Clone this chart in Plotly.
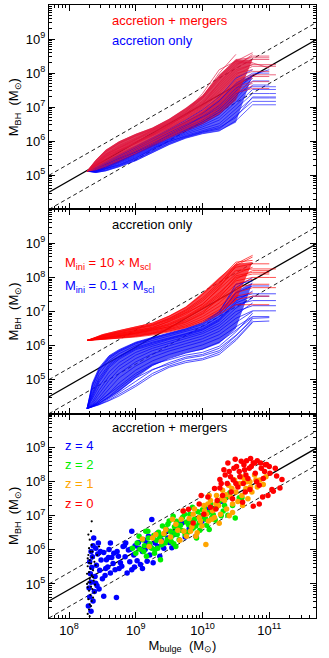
import plotly.graph_objects as go
from plotly.subplots import make_subplots

# ---------- data (all values are log10) ----------
# relation and +-0.5 dex scatter, endpoints at the x-axis limits
REL_X = [7.7, 11.7]
REL_Y = [4.50, 8.98]
REL_HI = [5.00, 9.48]
REL_LO = [4.00, 8.48]

# top panel: accretion + mergers (red) vs accretion only (blue)
TOP_GRID = [8.27, 8.4, 8.55, 8.75, 9.0, 9.25, 9.5, 9.75, 10.0, 10.25, 10.5, 10.75, 11.0, 11.1]
TOP_BLUE_LO = [5.12, 5.07, 5.12, 5.24, 5.42, 5.66, 5.90, 6.09, 6.22, 6.30, 6.55]
TOP_BLUE_HI = [5.12, 5.22, 5.38, 5.58, 5.82, 6.07, 6.32, 6.58, 6.87, 7.24, 7.70, 7.95]
TOP_RED_LO = [5.12, 5.13, 5.22, 5.38, 5.60, 5.84, 6.08, 6.30, 6.50, 6.78, 7.20]
TOP_RED_HI = [5.12, 5.45, 5.75, 6.00, 6.22, 6.40, 6.66, 6.98, 7.35, 7.95, 8.40, 8.40]
TOP_BLUE_TRACKS = [
    [5.12, 5.08, 5.13, 5.25, 5.43, 5.67, 5.90, 6.09, 6.22, 6.30, 6.60, 7.07, 7.07, 7.07],
    [5.12, 5.10, 5.18, 5.32, 5.52, 5.75, 5.98, 6.17, 6.32, 6.45, 6.85, 7.27, 7.27, 7.27],
    [5.12, 5.13, 5.22, 5.38, 5.58, 5.82, 6.05, 6.25, 6.42, 6.62, 7.05, 7.52, 7.52, 7.52],
    [5.12, 5.15, 5.26, 5.43, 5.64, 5.88, 6.12, 6.33, 6.52, 6.78, 7.25, 7.77, 7.77],
    [5.12, 5.17, 5.30, 5.48, 5.70, 5.94, 6.18, 6.40, 6.62, 6.92, 7.40, 7.60, 7.60, 7.60],
    [5.12, 5.19, 5.33, 5.52, 5.75, 6.00, 6.25, 6.48, 6.72, 7.05, 7.55, 7.90],
    [5.12, 5.21, 5.36, 5.56, 5.80, 6.05, 6.30, 6.55, 6.82, 7.18, 7.70, 8.00, 8.00],
    [5.12, 5.11, 5.20, 5.35, 5.55, 5.79, 6.02, 6.21, 6.37, 6.52, 6.95, 7.40, 7.40, 7.40],
    [5.12, 5.16, 5.28, 5.46, 5.67, 5.91, 6.15, 6.37, 6.57, 6.85, 7.32, 7.85],
    [5.12, 5.23, 5.40, 5.60, 5.84, 6.09, 6.35, 6.62, 6.92, 7.30, 7.85, 8.10],
    [5.12, 5.09, 5.15, 5.28, 5.47, 5.71, 5.94, 6.12, 6.26, 6.36, 6.75, 7.17, 7.17, 7.17],
    [5.12, 5.14, 5.24, 5.40, 5.61, 5.85, 6.08, 6.29, 6.47, 6.70, 7.15, 7.65, 7.65],
    [5.12, 5.12, 5.20, 5.30, 5.50, 5.78, 6.00, 6.15, 6.28, 6.40, 6.70, 7.30, 7.30, 7.30],
    [5.12, 5.18, 5.32, 5.50, 5.68, 5.90, 6.20, 6.45, 6.70, 6.98, 7.45, 7.95, 8.10],
]
TOP_RED_TRACKS = [
    [5.12, 5.44, 5.73, 5.98, 6.20, 6.38, 6.64, 6.95, 7.32, 7.90, 8.40, 8.45, 8.45],
    [5.12, 5.40, 5.68, 5.93, 6.15, 6.34, 6.58, 6.88, 7.25, 7.80, 8.30, 8.30],
    [5.12, 5.37, 5.63, 5.88, 6.10, 6.30, 6.53, 6.82, 7.18, 7.70, 8.20, 8.55],
    [5.12, 5.34, 5.58, 5.82, 6.04, 6.25, 6.48, 6.76, 7.10, 7.60, 8.10, 8.25, 8.25, 8.25],
    [5.12, 5.31, 5.53, 5.76, 5.98, 6.20, 6.43, 6.70, 7.03, 7.50, 8.00, 8.10],
    [5.12, 5.28, 5.48, 5.70, 5.92, 6.15, 6.38, 6.64, 6.96, 7.40, 7.90, 8.05, 8.05],
    [5.12, 5.26, 5.44, 5.65, 5.87, 6.10, 6.33, 6.58, 6.90, 7.32, 7.80, 7.95, 7.95, 7.95],
    [5.12, 5.24, 5.40, 5.60, 5.82, 6.05, 6.28, 6.52, 6.83, 7.24, 7.70, 7.85],
    [5.12, 5.22, 5.37, 5.56, 5.78, 6.00, 6.23, 6.47, 6.77, 7.15, 7.60, 7.75, 7.75],
    [5.12, 5.20, 5.34, 5.52, 5.74, 5.96, 6.18, 6.42, 6.70, 7.08, 7.52, 7.70],
    [5.12, 5.42, 5.70, 5.95, 6.17, 6.36, 6.61, 6.92, 7.28, 7.85, 8.35, 8.60],
    [5.12, 5.35, 5.60, 5.85, 6.07, 6.28, 6.50, 6.79, 7.14, 7.65, 8.15, 8.40, 8.40],
    [5.12, 5.29, 5.50, 5.73, 5.95, 6.17, 6.40, 6.67, 7.00, 7.45, 7.95, 8.20, 8.20, 8.20],
    [5.12, 5.25, 5.42, 5.62, 5.84, 6.07, 6.30, 6.55, 6.86, 7.28, 7.75, 7.90, 7.90],
    [5.12, 5.30, 5.55, 5.80, 6.00, 6.20, 6.45, 6.80, 7.30, 8.00, 8.55],
    [5.12, 5.38, 5.62, 5.80, 6.05, 6.32, 6.55, 6.85, 7.40, 8.10, 8.35, 8.30, 8.15],
    [5.12, 5.27, 5.46, 5.72, 5.96, 6.18, 6.46, 6.75, 7.05, 7.55, 8.05, 8.25],
    [5.12, 5.33, 5.56, 5.74, 5.94, 6.22, 6.50, 6.74, 7.08, 7.72, 8.25, 8.50, 8.50],
    [5.12, 5.16, 5.27, 5.44, 5.66, 5.90, 6.12, 6.36, 6.60, 6.95, 7.45, 7.62],
    [5.12, 5.18, 5.30, 5.48, 5.70, 5.92, 6.15, 6.38, 6.64, 7.00, 7.42, 7.55, 7.55],
]

# middle panel: accretion only, M_ini = 10 x M_scl (red) and 0.1 x M_scl (blue)
MID_RED_GRID = [8.27, 8.5, 8.75, 9.0, 9.25, 9.5, 9.75, 10.0, 10.25, 10.5, 10.75, 11.0, 11.1]
MID_RED_LO = [6.15, 6.18, 6.21, 6.26, 6.32, 6.41, 6.53, 6.70, 6.95, 7.30]
MID_RED_HI = [6.15, 6.33, 6.45, 6.55, 6.67, 6.88, 7.15, 7.55, 8.00, 8.40, 8.45]
MID_RED_TRACKS = [
    [6.15, 6.32, 6.44, 6.54, 6.66, 6.86, 7.12, 7.50, 7.95, 8.45, 8.50],
    [6.15, 6.30, 6.41, 6.51, 6.62, 6.80, 7.05, 7.40, 7.85, 8.30, 8.40, 8.40],
    [6.15, 6.28, 6.38, 6.48, 6.58, 6.75, 6.98, 7.30, 7.75, 8.20, 8.25, 8.25, 8.25],
    [6.15, 6.26, 6.35, 6.44, 6.54, 6.70, 6.92, 7.22, 7.65, 8.10, 8.30],
    [6.15, 6.25, 6.33, 6.41, 6.50, 6.65, 6.86, 7.15, 7.55, 8.00, 8.10, 8.10],
    [6.15, 6.23, 6.30, 6.38, 6.47, 6.60, 6.80, 7.08, 7.45, 7.90, 8.00, 8.00, 8.00],
    [6.15, 6.22, 6.28, 6.35, 6.44, 6.56, 6.74, 7.00, 7.35, 7.80, 7.95],
    [6.15, 6.21, 6.26, 6.33, 6.41, 6.52, 6.68, 6.92, 7.25, 7.70, 7.80, 7.80],
    [6.15, 6.20, 6.25, 6.31, 6.38, 6.49, 6.63, 6.85, 7.15, 7.55, 7.70, 7.70, 7.70],
    [6.15, 6.19, 6.24, 6.29, 6.36, 6.46, 6.58, 6.78, 7.05, 7.45, 7.55],
    [6.15, 6.18, 6.22, 6.27, 6.34, 6.43, 6.54, 6.72, 6.98, 7.35, 7.45, 7.45],
    [6.15, 6.18, 6.21, 6.25, 6.31, 6.40, 6.52, 6.68, 6.92, 7.20, 7.20, 7.20],
    [6.15, 6.29, 6.40, 6.50, 6.60, 6.78, 7.02, 7.35, 7.80, 8.40, 8.65],
    [6.15, 6.24, 6.32, 6.40, 6.49, 6.62, 6.83, 7.12, 7.50, 8.05, 8.15, 8.15],
    [6.15, 6.27, 6.36, 6.43, 6.52, 6.72, 6.95, 7.20, 7.70, 8.35, 8.60],
    [6.15, 6.20, 6.27, 6.36, 6.45, 6.55, 6.70, 6.95, 7.40, 7.95, 8.20, 8.20],
]
MID_BLUE_GRID = [8.27, 8.35, 8.45, 8.6, 8.75, 9.0, 9.25, 9.5, 9.75, 10.0, 10.25, 10.5, 10.75, 11.0, 11.1]
MID_BLUE_LO = [4.15, 4.21, 4.29, 4.45, 4.64, 5.04, 5.40, 5.63, 5.78, 5.88, 6.06, 6.50]
MID_BLUE_HI = [4.15, 4.88, 5.33, 5.70, 5.88, 6.10, 6.24, 6.36, 6.50, 6.66, 6.98, 7.60, 7.85]
MID_BLUE_TRACKS = [
    [4.15, 4.90, 5.35, 5.70, 5.88, 6.10, 6.24, 6.36, 6.50, 6.68, 7.00, 7.70, 8.00],
    [4.15, 4.80, 5.25, 5.62, 5.82, 6.05, 6.20, 6.32, 6.45, 6.62, 6.92, 7.55, 7.75, 7.75],
    [4.15, 4.70, 5.15, 5.55, 5.76, 6.00, 6.15, 6.28, 6.40, 6.55, 6.85, 7.40, 7.52, 7.52, 7.52],
    [4.15, 4.60, 5.05, 5.45, 5.68, 5.94, 6.10, 6.22, 6.35, 6.50, 6.78, 7.30, 7.60],
    [4.15, 4.50, 4.92, 5.35, 5.60, 5.88, 6.04, 6.18, 6.30, 6.45, 6.72, 7.20, 7.32, 7.32, 7.32],
    [4.15, 4.42, 4.80, 5.22, 5.50, 5.80, 5.98, 6.12, 6.25, 6.40, 6.65, 7.10, 7.40],
    [4.15, 4.35, 4.68, 5.10, 5.40, 5.72, 5.92, 6.06, 6.20, 6.35, 6.58, 7.00, 7.17, 7.17, 7.17],
    [4.15, 4.30, 4.58, 4.98, 5.30, 5.62, 5.85, 6.00, 6.14, 6.28, 6.50, 6.90, 7.25],
    [4.15, 4.26, 4.48, 4.85, 5.18, 5.52, 5.76, 5.92, 6.06, 6.20, 6.42, 6.80, 7.02, 7.02, 7.02],
    [4.15, 4.24, 4.40, 4.72, 5.05, 5.40, 5.66, 5.84, 5.98, 6.12, 6.32, 6.68, 7.00],
    [4.15, 4.22, 4.35, 4.60, 4.90, 5.28, 5.55, 5.74, 5.88, 6.02, 6.22, 6.55, 6.85, 6.85],
    [4.15, 4.21, 4.31, 4.50, 4.75, 5.12, 5.42, 5.62, 5.78, 5.90, 6.10, 6.45, 6.83],
    [4.15, 4.20, 4.28, 4.44, 4.62, 4.95, 5.28, 5.50, 5.66, 5.74, 5.92, 6.30, 6.75],
    [4.15, 4.20, 4.27, 4.40, 4.56, 4.85, 5.18, 5.40, 5.55, 5.62, 5.80, 6.20, 6.70, 6.72],
    [4.15, 4.85, 5.30, 5.66, 5.85, 6.08, 6.22, 6.35, 6.48, 6.66, 6.98, 7.80, 7.90],
    [4.15, 4.55, 4.98, 5.40, 5.64, 5.91, 6.07, 6.20, 6.32, 6.47, 6.75, 7.25, 7.45, 7.45],
    [4.15, 4.20, 4.26, 4.38, 4.52, 4.80, 5.12, 5.36, 5.50, 5.58, 5.74, 6.15, 6.68],
    [4.15, 4.21, 4.30, 4.48, 4.68, 5.05, 5.30, 5.45, 5.62, 5.70, 5.85, 6.28, 6.80, 6.82],
    [4.15, 4.23, 4.36, 4.58, 4.82, 5.18, 5.45, 5.58, 5.72, 5.80, 5.98, 6.40, 6.95],
]

# bottom panel: accretion + mergers, snapshots at several redshifts
SEED_X = [8.28, 8.30, 8.31, 8.29, 8.32, 8.30, 8.33, 8.29, 8.31, 8.34, 8.30, 8.32, 8.28, 8.33, 8.31,
          8.35, 8.29, 8.32, 8.30, 8.34, 8.31, 8.36, 8.37, 8.35, 8.36, 8.38, 8.27, 8.27, 8.28, 8.33,
          8.35, 8.34, 8.40, 8.42, 8.45, 8.39, 8.29, 8.33, 8.31, 8.36, 8.38, 8.30, 8.32, 8.34, 8.28]
SEED_Y = [4.12, 4.25, 4.40, 4.55, 4.68, 4.80, 4.92, 5.05, 5.15, 5.25, 5.35, 5.45, 5.52, 5.60, 5.70,
          5.78, 5.85, 5.95, 6.05, 6.15, 6.30, 5.40, 5.10, 4.85, 4.60, 5.65, 5.00, 5.30, 5.75, 4.35,
          5.95, 6.84, 5.55, 5.85, 6.10, 4.98, 6.45, 6.55, 4.05, 5.20, 4.75, 5.62, 5.05, 4.50, 4.90]

Z4_X = [8.29, 8.31, 8.30, 8.33, 8.32, 8.34, 8.31, 8.35, 8.33, 8.36, 8.37, 8.33, 8.36, 8.38, 8.40,
        8.39, 8.41, 8.43, 8.44, 8.42, 8.46, 8.48, 8.50, 8.52, 8.54, 8.56, 8.58, 8.60, 8.62, 8.64,
        8.66, 8.69, 8.71, 8.52, 8.72, 8.74, 8.77, 8.79, 8.81, 8.84, 8.87, 8.89, 8.92, 8.94, 8.94,
        8.97, 8.99, 9.02, 9.04, 9.07, 9.10, 9.12, 9.14, 9.17, 9.19, 9.22, 9.24, 9.26, 9.29, 9.32,
        9.36, 9.38, 9.42, 9.46, 9.50, 9.54, 9.58, 9.62, 9.69, 9.74, 9.80, 9.90, 9.99, 10.04, 10.06,
        10.29, 9.56, 9.10, 8.85, 8.62, 8.47, 8.55, 8.59, 8.67, 8.75, 8.83, 8.91, 8.98, 9.05, 9.16,
        9.21, 9.33, 9.48, 8.40, 8.45]
Z4_Y = [4.35, 4.62, 4.88, 5.05, 5.30, 5.48, 5.65, 5.80, 5.95, 6.12, 6.35, 4.20, 4.50, 4.78, 5.02,
        5.22, 5.55, 5.88, 6.20, 4.95, 5.40, 5.70, 5.15, 5.92, 5.25, 5.71, 5.50, 6.01, 5.32, 5.78,
        5.60, 5.42, 4.60, 4.64, 5.95, 5.81, 5.62, 5.52, 6.10, 5.80, 5.32, 6.00, 6.02, 5.42, 6.55,
        5.85, 6.12, 5.68, 6.22, 5.57, 5.95, 6.30, 6.01, 5.67, 6.40, 6.08, 6.89, 5.62, 6.20, 6.48,
        5.81, 6.30, 6.05, 6.58, 6.22, 6.06, 6.45, 6.70, 6.79, 6.38, 6.62, 6.40, 6.84, 7.14, 7.19,
        7.43, 6.50, 5.45, 6.20, 6.20, 5.95, 5.45, 5.78, 5.90, 5.45, 6.12, 5.65, 5.50, 6.05, 6.20,
        5.85, 6.10, 6.35, 6.05, 4.85]

Z2_X = [8.95, 9.00, 9.02, 9.06, 9.10, 9.13, 9.16, 9.19, 9.21, 9.24, 9.27, 9.29, 9.31, 9.34, 9.36,
        9.37, 9.39, 9.42, 9.45, 9.47, 9.50, 9.52, 9.54, 9.56, 9.57, 9.59, 9.61, 9.63, 9.65, 9.67,
        9.70, 9.72, 9.74, 9.76, 9.79, 9.81, 9.83, 9.86, 9.88, 9.91, 9.93, 9.95, 9.98, 10.01, 10.03,
        10.06, 10.09, 10.12, 10.16, 10.19, 10.22, 10.26, 10.31, 10.35, 10.41, 10.45, 10.49, 10.55,
        10.59, 9.15, 9.40, 9.60, 9.85, 9.28, 10.10, 10.38, 9.05, 9.12, 9.18, 9.33, 9.44, 9.48,
        9.53, 9.62, 9.68, 9.73, 9.78, 9.84, 9.90, 9.96, 10.00, 10.05, 10.14, 10.20, 10.28, 10.33,
        9.58, 9.35]
Z2_Y = [6.05, 5.90, 6.20, 6.02, 6.30, 6.12, 5.81, 6.35, 6.18, 6.05, 6.42, 6.01, 6.28, 6.52, 6.35,
        5.71, 6.15, 6.45, 6.62, 6.30, 6.85, 6.55, 6.40, 6.99, 6.18, 6.50, 6.84, 6.65, 6.30, 6.72,
        6.95, 6.55, 6.45, 6.82, 6.74, 7.05, 6.60, 6.64, 6.90, 6.35, 7.12, 6.80, 7.00, 6.94, 7.25,
        6.72, 7.10, 7.35, 7.04, 6.88, 7.28, 7.45, 7.14, 7.55, 7.68, 7.30, 6.94, 7.53,
        7.53, 6.55, 6.70, 6.10, 7.25, 5.90, 6.60, 7.02, 6.40, 5.95, 6.55, 6.05, 6.20, 6.75,
        6.25, 6.45, 6.58, 7.05, 6.52, 6.85, 6.70, 6.58, 7.18, 6.90, 6.95, 7.22, 7.00, 7.30,
        6.68, 6.42]

Z1_X = [9.10, 9.20, 9.30, 9.38, 9.45, 9.52, 9.60, 9.66, 9.71, 9.72, 9.76, 9.80, 9.84, 9.88, 9.92,
        9.95, 9.99, 10.02, 10.05, 10.06, 10.09, 10.12, 10.15, 10.18, 10.21, 10.24, 10.27, 10.30,
        10.33, 10.36, 10.39, 10.42, 10.45, 10.48, 10.50, 10.53, 10.56, 10.59, 10.62, 10.65, 10.68,
        10.71, 10.74, 10.78, 10.82, 10.86, 10.91, 10.95, 10.25, 10.40, 9.55, 9.90, 10.60, 10.10,
        9.25, 9.42, 9.63, 9.68, 9.82, 9.86, 9.97, 10.03, 10.08, 10.14, 10.20, 10.29, 10.35, 10.44,
        10.52, 10.58, 10.66, 10.72, 10.80, 10.45]
Z1_Y = [6.32, 6.10, 6.45, 6.25, 6.60, 6.38, 6.75, 6.28, 7.14, 6.55, 6.40, 6.92, 6.68, 7.20, 6.50,
        6.95, 6.70, 7.30, 6.16, 7.05, 6.85, 7.45, 7.15, 6.95, 7.60, 7.30, 7.05, 7.75,
        7.45, 7.20, 7.90, 7.55, 7.35, 8.05, 7.70, 7.42, 7.95, 7.60, 8.10, 7.80, 7.50,
        8.00, 7.70, 8.20, 7.85, 8.05, 7.92, 8.15, 6.78, 7.00, 6.90, 6.40, 7.30, 7.60,
        6.35, 6.48, 6.58, 6.90, 6.55, 7.05, 6.85, 7.15, 7.35, 6.90, 7.35, 7.50, 7.62, 7.80,
        7.90, 8.15, 8.00, 7.85, 8.05, 7.10]

Z0_X = [9.71, 9.79, 9.86, 9.95, 10.02, 10.08, 10.12, 10.18, 10.22, 10.26, 10.26, 10.30, 10.34,
        10.37, 10.40, 10.43, 10.46, 10.49, 10.51, 10.53, 10.56, 10.58, 10.61, 10.63, 10.66, 10.68,
        10.71, 10.73, 10.76, 10.76, 10.79, 10.82, 10.85, 10.88, 10.91, 10.94, 10.96, 10.98, 11.01,
        11.04, 11.06, 11.09, 11.11, 11.16, 11.19, 10.20, 10.45, 10.60, 10.85, 10.38, 10.72, 9.98,
        10.90, 10.28, 10.32, 10.42, 10.47, 10.55, 10.62, 10.65, 10.70, 10.78, 10.81, 10.87, 10.93,
        11.00, 10.64, 10.50]
Z0_Y = [7.14, 7.19, 6.79, 7.35, 7.05, 7.55, 7.25, 7.80, 7.45, 8.07, 7.82, 7.60, 8.20,
        7.95, 8.30, 7.70, 8.05, 8.66, 8.45, 7.85, 8.15, 8.60, 7.95, 8.35, 8.62, 8.10,
        7.77, 8.45, 7.28, 8.55, 8.25, 8.62, 7.90, 8.40, 8.10, 8.50, 8.51, 7.60, 8.25,
        7.77, 7.72, 8.40, 8.17, 7.82, 8.07, 7.20, 7.50, 7.40, 7.35, 8.55, 8.68, 7.60,
        7.55, 7.95, 8.35, 8.15, 8.40, 8.30, 8.50, 8.20, 8.40, 8.55, 8.00, 8.55, 8.30,
        8.45, 7.70, 7.95]

BLUE = "#0000FF"
RED = "#FF0000"
CRIMSON = "#E2143C"
GREEN = "#00EE00"
ORANGE = "#FFA500"
FONT = "Liberation Sans, Arial, Helvetica, sans-serif"

# plot area in pixels
L, R, T, B = 49, 13, 5, 40
W, HGT = 329, 658


def lin(vals):
    return [10 ** v for v in vals]


def add_fill(fig, row, grid, lo, hi, fill):
    # dense core of a bundle of tracks
    fig.add_trace(
        go.Scatter(
            x=lin(grid[:len(hi)] + grid[:len(lo)][::-1]),
            y=lin(hi + lo[::-1]),
            fill="toself", fillcolor=fill, mode="lines", line=dict(width=0),
            hoverinfo="skip", showlegend=False,
        ),
        row=row, col=1,
    )


def add_tracks(fig, row, grid, tracks, color, opacity):
    for tr in tracks:
        fig.add_trace(
            go.Scatter(
                x=lin(grid[:len(tr)]), y=lin(tr), mode="lines",
                line=dict(color=color, width=0.8), opacity=opacity,
                hoverinfo="skip", showlegend=False,
            ),
            row=row, col=1,
        )


def add_relation(fig, row):
    for ys, dash, w in ((REL_Y, "solid", 1.3), (REL_HI, "dash", 0.9), (REL_LO, "dash", 0.9)):
        fig.add_trace(
            go.Scatter(
                x=lin(REL_X), y=lin(ys), mode="lines",
                line=dict(color="black", width=w, dash="4px,3px" if dash == "dash" else "solid"),
                hoverinfo="skip", showlegend=False,
            ),
            row=row, col=1,
        )


fig = make_subplots(rows=3, cols=1, shared_xaxes=True, vertical_spacing=0)

# top
add_relation(fig, 1)
add_fill(fig, 1, TOP_GRID, TOP_BLUE_LO, TOP_BLUE_HI, "rgba(35,35,250,0.72)")
add_fill(fig, 1, TOP_GRID, TOP_RED_LO, TOP_RED_HI, "rgba(215,15,55,0.8)")
add_tracks(fig, 1, TOP_GRID, TOP_BLUE_TRACKS, BLUE, 0.75)
add_tracks(fig, 1, TOP_GRID, TOP_RED_TRACKS, CRIMSON, 0.8)

# middle
add_relation(fig, 2)
add_fill(fig, 2, MID_BLUE_GRID, MID_BLUE_LO, MID_BLUE_HI, "rgba(30,30,245,0.75)")
add_fill(fig, 2, MID_RED_GRID, MID_RED_LO, MID_RED_HI, "rgba(250,20,30,0.8)")
add_tracks(fig, 2, MID_BLUE_GRID, MID_BLUE_TRACKS, BLUE, 0.85)
add_tracks(fig, 2, MID_RED_GRID, MID_RED_TRACKS, RED, 0.85)

# bottom
add_relation(fig, 3)
for xs, ys, col, size in ((Z4_X, Z4_Y, BLUE, 5.5), (Z2_X, Z2_Y, GREEN, 5.5),
                          (Z1_X, Z1_Y, ORANGE, 5.5), (Z0_X, Z0_Y, RED, 5.5),
                          (SEED_X, SEED_Y, "black", 2.2)):
    fig.add_trace(
        go.Scatter(x=lin(xs), y=lin(ys), mode="markers",
                   marker=dict(color=col, size=size, line=dict(width=0)),
                   hoverinfo="skip", showlegend=False),
        row=3, col=1,
    )

# axes
major_x = [1e8, 1e9, 1e10, 1e11]
minor_x = [m * 10 ** e for e in range(7, 12) for m in range(2, 10)]
major_y = [1e5, 1e6, 1e7, 1e8, 1e9]
minor_y = [m * 10 ** e for e in range(4, 10) for m in range(2, 10)]

axis_common = dict(
    type="log", showline=True, linecolor="black", linewidth=1, mirror="allticks",
    ticks="inside", ticklen=6, tickcolor="black", tickwidth=1,
    showgrid=False, zeroline=False,
    tickfont=dict(family=FONT, size=13, color="black"),
)
for r in (1, 2, 3):
    fig.update_xaxes(
        range=[7.7, 11.7], tickvals=major_x,
        ticktext=["10<sup>8</sup>", "10<sup>9</sup>", "10<sup>10</sup>", "10<sup>11</sup>"],
        minor=dict(ticks="inside", ticklen=3, tickcolor="black", tickvals=minor_x, showgrid=False),
        showticklabels=(r == 3),
        row=r, col=1, **axis_common,
    )
    fig.update_yaxes(
        range=[4, 10], tickvals=major_y,
        ticktext=["10<sup>5</sup>", "10<sup>6</sup>", "10<sup>7</sup>", "10<sup>8</sup>", "10<sup>9</sup>"],
        minor=dict(ticks="inside", ticklen=3, tickcolor="black", tickvals=minor_y, showgrid=False),
        title=dict(text="M<sub>BH</sub>  (M<sub>⊙</sub>)", font=dict(family=FONT, size=13), standoff=4),
        row=r, col=1, **axis_common,
    )
fig.update_xaxes(
    title=dict(text="M<sub>bulge</sub>  (M<sub>⊙</sub>)", font=dict(family=FONT, size=13), standoff=2),
    row=3, col=1,
)


def px_x(px):
    return (px - L) / (W - L - R)


def px_y(py):
    return 1 - (py - T) / (HGT - T - B)


labels = [
    ("accretion + mergers", 110, 20, RED),
    ("accretion only", 110, 40, BLUE),
    ("accretion only", 110, 224, "black"),
    ("M<sub>ini</sub> = 10 × M<sub>scl</sub>", 63, 263, RED),
    ("M<sub>ini</sub> = 0.1 × M<sub>scl</sub>", 63, 286, BLUE),
    ("accretion + mergers", 110, 427, "black"),
    ("z = 4", 63, 445, BLUE),
    ("z = 2", 63, 464, GREEN),
    ("z = 1", 63, 483, ORANGE),
    ("z = 0", 63, 503, RED),
]
for text, x, y, col in labels:
    fig.add_annotation(
        text=text, x=px_x(x), y=px_y(y), xref="paper", yref="paper",
        xanchor="left", yanchor="middle", showarrow=False,
        font=dict(family=FONT, size=13, color=col),
    )

fig.update_layout(
    width=W, height=HGT,
    margin=dict(l=L, r=R, t=T, b=B, autoexpand=False),
    paper_bgcolor="white", plot_bgcolor="white",
    font=dict(family=FONT, size=13, color="black"),
    showlegend=False,
)

fig.write_html(
    "out.html",
    config={"displayModeBar": False},
    post_script="document.body.style.margin='0px';",
)
